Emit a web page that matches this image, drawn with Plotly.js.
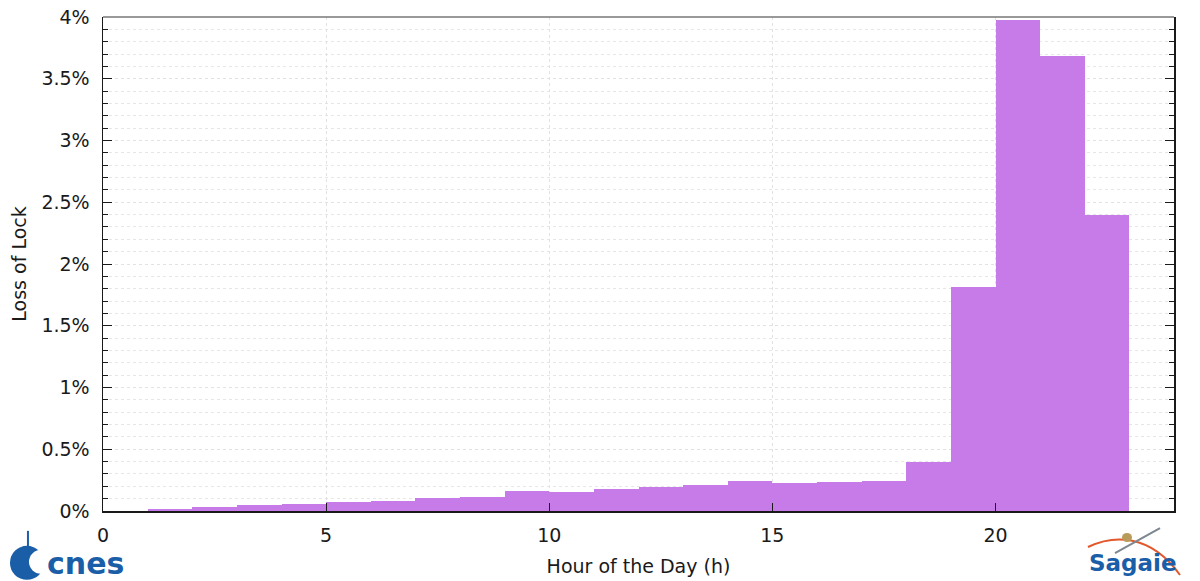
<!DOCTYPE html>
<html>
<head>
<meta charset="utf-8">
<script src="https://cdn.plot.ly/plotly-3.0.1.min.js"></script>
<style>html,body{margin:0;padding:0;background:#fff;}#chart{width:1200px;height:581px;}</style>
</head>
<body>
<div id="chart"></div>
<script>
// Hour bins (start hour of each one-hour bin)
const hourBins = [1,2,3,4,5,6,7,8,9,10,11,12,13,14,15,16,17,18,19,20,21,22];
// Loss of lock (%) per hour bin
const lossOfLock = [0.02,0.03,0.045,0.06,0.07,0.085,0.106,0.11,0.163,0.155,0.18,0.194,0.21,0.247,0.227,0.235,0.245,0.395,1.814,3.976,3.684,2.397];
const xTickVals = [0,5,10,15,20];
const yTickVals = [0,0.5,1,1.5,2,2.5,3,3.5,4];
const yTickText = ['0%','0.5%','1%','1.5%','2%','2.5%','3%','3.5%','4%'];

const font = 'DejaVu Sans, sans-serif';
const ink = '#1a1a1a';

const trace = {
  type: 'bar',
  x: hourBins,
  y: lossOfLock,
  offset: 0,
  width: 1,
  marker: {color: '#c77be9', line: {width: 0}},
  hoverinfo: 'x+y'
};

const layout = {
  width: 1200, height: 581,
  margin: {l: 103, r: 26, t: 17, b: 70},
  paper_bgcolor: '#fff', plot_bgcolor: '#fff',
  showlegend: false,
  bargap: 0,
  font: {family: font, size: 19, color: ink},
  xaxis: {
    range: [0, 24],
    tickvals: xTickVals,
    ticks: 'inside', ticklen: 8, tickcolor: ink, tickwidth: 1,
    showline: true, linecolor: ink, linewidth: 1.5,
    showgrid: true, gridcolor: '#e2e2e2', griddash: 'dot', gridwidth: 1,
    zeroline: false,
    ticklabelstandoff: 7,
    tickfont: {family: font, size: 19, color: ink},
    title: {text: 'Hour of the Day (h)', font: {family: font, size: 19, color: ink}, standoff: 14}
  },
  yaxis: {
    range: [0, 4],
    tickvals: yTickVals, ticktext: yTickText,
    ticks: 'inside', ticklen: 9, tickcolor: ink, tickwidth: 1,
    showline: true, linecolor: ink, linewidth: 1.5, mirror: 'ticks',
    showgrid: true, gridcolor: '#e2e2e2', griddash: 'dot', gridwidth: 1,
    zeroline: false,
    ticklabelstandoff: 8,
    minor: {dtick: 0.1, ticks: 'inside', ticklen: 5, tickcolor: ink, showgrid: true, gridcolor: '#e6e6e6', griddash: 'dot', gridwidth: 1},
    tickfont: {family: font, size: 19, color: ink},
    title: {text: 'Loss of Lock', font: {family: font, size: 19, color: ink}, standoff: 10}
  },
  shapes: [
    {type: 'line', xref: 'paper', yref: 'paper', x0: 0, x1: 1, y0: 1, y1: 1, line: {color: '#777', width: 1.5}},
    // cnes emblem (crescent)
    {type: 'circle', xref: 'paper', yref: 'paper', xsizemode: 'pixel', ysizemode: 'pixel',
      xanchor: -0.071, yanchor: -0.105, x0: -17, x1: 17, y0: -17, y1: 17,
      fillcolor: '#1b5ea8', line: {width: 0}},
    {type: 'circle', xref: 'paper', yref: 'paper', xsizemode: 'pixel', ysizemode: 'pixel',
      xanchor: -0.071, yanchor: -0.105, x0: 2, x1: 26, y0: -11, y1: 13,
      fillcolor: '#fff', line: {width: 0}},
    {type: 'line', xref: 'paper', yref: 'paper', xsizemode: 'pixel', ysizemode: 'pixel',
      xanchor: -0.071, yanchor: -0.105, x0: 1, x1: 1, y0: 8, y1: 32,
      line: {color: '#1b5ea8', width: 2}},
    // sagaie orbit arc and satellite
    {type: 'path', xref: 'paper', yref: 'paper', xsizemode: 'pixel', ysizemode: 'pixel',
      xanchor: 0.9197, yanchor: -0.0729, path: 'M 0 0 C 25 12 62 14 92 -28',
      line: {color: '#e2572b', width: 2}},
    {type: 'line', xref: 'paper', yref: 'paper', xsizemode: 'pixel', ysizemode: 'pixel',
      xanchor: 0.9197, yanchor: -0.0729, x0: 27, x1: 72, y0: -6, y1: 19,
      line: {color: '#7d8790', width: 2}},
    {type: 'circle', xref: 'paper', yref: 'paper', xsizemode: 'pixel', ysizemode: 'pixel',
      xanchor: 0.9197, yanchor: -0.0729, x0: 34, x1: 44, y0: 5, y1: 14,
      fillcolor: '#b89a5a', line: {width: 0}}
  ],
  annotations: [
    {text: '<b>cnes</b>', xref: 'paper', yref: 'paper', x: -0.054, y: -0.106, xanchor: 'left', yanchor: 'middle',
      showarrow: false, font: {family: 'DejaVu Sans, sans-serif', size: 30, color: '#1b5ea8'}},
    {text: '<b>Sagaie</b>', xref: 'paper', yref: 'paper', x: 0.9617, y: -0.106, xanchor: 'center', yanchor: 'middle',
      showarrow: false, font: {family: 'DejaVu Sans, sans-serif', size: 23, color: '#1b5ea8'}}
  ]
};

Plotly.newPlot('chart', [trace], layout, {displayModeBar: false, staticPlot: true});
</script>
</body>
</html>
